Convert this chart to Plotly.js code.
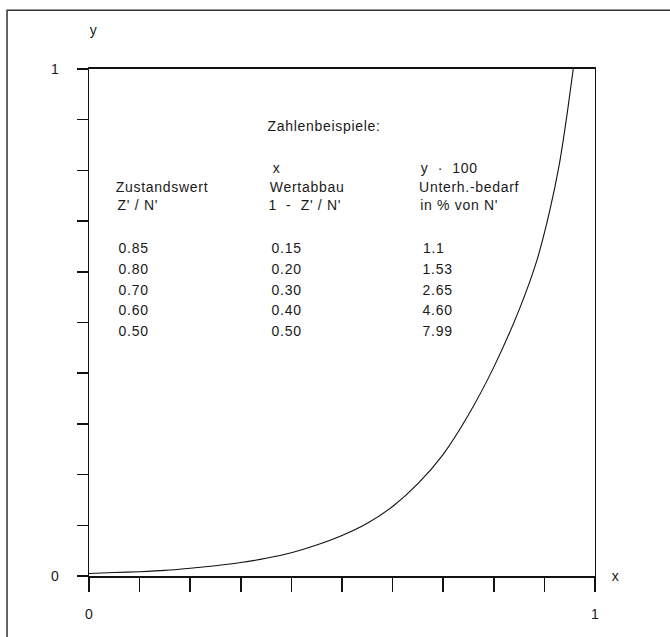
<!DOCTYPE html>
<html>
<head>
<meta charset="utf-8">
<script src="https://cdn.plot.ly/plotly-3.0.1.min.js"></script>
<style>
  html, body { margin: 0; padding: 0; background: #ffffff; }
  #chart { width: 670px; height: 637px; }
  #chart .annotation-text { letter-spacing: 0.7px; }
</style>
</head>
<body>
<div id="chart"></div>
<script>
// Curve (x = Wertabbau, y = Unterhaltungsbedarf / N')
const curveX = [0, 0.05, 0.1, 0.15, 0.2, 0.25, 0.3, 0.35, 0.4, 0.45, 0.5, 0.55, 0.6, 0.65, 0.7, 0.75, 0.8, 0.85, 0.885, 0.91, 0.93, 0.945, 0.957];
const curveY = [0.005, 0.0068, 0.0085, 0.011, 0.0153, 0.0203, 0.0265, 0.035, 0.046, 0.061, 0.0799, 0.104, 0.137, 0.182, 0.24, 0.318, 0.412, 0.525, 0.622, 0.718, 0.815, 0.912, 1.0];

// Tick positions and labels
const tickVals = [0, 0.1, 0.2, 0.3, 0.4, 0.5, 0.6, 0.7, 0.8, 0.9, 1];
const tickText = ["0", "", "", "", "", "", "", "", "", "", "1"];

// Table of examples
const tableTitle = "Zahlenbeispiele:";
const col1Header = ["", "Zustandswert", "Z' / N'"];
const col2Header = ["x", "Wertabbau", "1  -  Z' / N'"];
const col3Header = ["y  ·  100", "Unterh.-bedarf", "in % von N'"];
const zustandswert = ["0.85", "0.80", "0.70", "0.60", "0.50"];
const wertabbau = ["0.15", "0.20", "0.30", "0.40", "0.50"];
const unterhBedarf = ["1.1", "1.53", "2.65", "4.60", "7.99"];

const FONT = "Liberation Sans, Arial, Helvetica, sans-serif";
const fs = 14;

const colX = [0.057, 0.36, 0.658];
const headerY = [0.805, 0.768, 0.732];
const rowY = [0.647, 0.606, 0.565, 0.525, 0.484];

const annotations = [];
function addText(txt, x, y) {
  if (!txt) return;
  annotations.push({
    text: txt, x: x, y: y, xref: 'x', yref: 'y',
    xanchor: 'left', yanchor: 'middle', showarrow: false,
    font: {family: FONT, size: fs, color: '#1a1a1a'}
  });
}
addText(tableTitle, colX[1], 0.888);
[col1Header, col2Header, col3Header].forEach((col, c) => {
  col.forEach((t, i) => addText(t, colX[c], headerY[i]));
});
[zustandswert, wertabbau, unterhBedarf].forEach((col, c) => {
  col.forEach((t, i) => addText(t, colX[c], rowY[i]));
});
// axis names
annotations.push({text: 'x', xref: 'paper', yref: 'paper', x: 1.04, y: 0.0, xanchor: 'center', yanchor: 'middle',
  showarrow: false, font: {family: FONT, size: fs, color: '#1a1a1a'}});
annotations.push({text: 'y', xref: 'paper', yref: 'paper', x: 0.008, y: 1.077, xanchor: 'center', yanchor: 'middle',
  showarrow: false, font: {family: FONT, size: fs, color: '#1a1a1a'}});

const trace = {
  x: curveX, y: curveY, type: 'scatter', mode: 'lines',
  line: {color: '#111', width: 1.1, shape: 'spline', smoothing: 0.7},
  hoverinfo: 'skip', showlegend: false
};

const layout = {
  width: 670, height: 637,
  margin: {l: 89, r: 75, t: 69, b: 61},
  paper_bgcolor: '#ffffff', plot_bgcolor: '#ffffff',
  font: {family: FONT, size: fs, color: '#1a1a1a'},
  showlegend: false,
  xaxis: {
    range: [0, 1], showgrid: false, zeroline: false,
    showline: true, linecolor: '#111', linewidth: 2, mirror: true,
    ticks: 'outside', ticklen: 14, tickwidth: 1.5, tickcolor: '#111',
    tickmode: 'array', tickvals: tickVals, ticktext: tickText,
    ticklabelstandoff: 10,
    tickfont: {family: FONT, size: fs, color: '#1a1a1a'}
  },
  yaxis: {
    range: [0, 1], showgrid: false, zeroline: false,
    showline: true, linecolor: '#111', linewidth: 1.3, mirror: true,
    ticks: 'outside', ticklen: 11, tickwidth: 1.5, tickcolor: '#111',
    tickmode: 'array', tickvals: tickVals, ticktext: tickText,
    ticklabelstandoff: 15,
    tickfont: {family: FONT, size: fs, color: '#1a1a1a'}
  },
  shapes: [
    {type: 'rect', xref: 'paper', yref: 'paper',
     x0: -0.162, x1: 1.25, y0: -0.16, y1: 1.116,
     line: {color: '#333', width: 1.5}, fillcolor: 'rgba(0,0,0,0)', layer: 'below'}
  ],
  annotations: annotations
};

Plotly.newPlot('chart', [trace], layout, {displayModeBar: false, staticPlot: true});
</script>
</body>
</html>
